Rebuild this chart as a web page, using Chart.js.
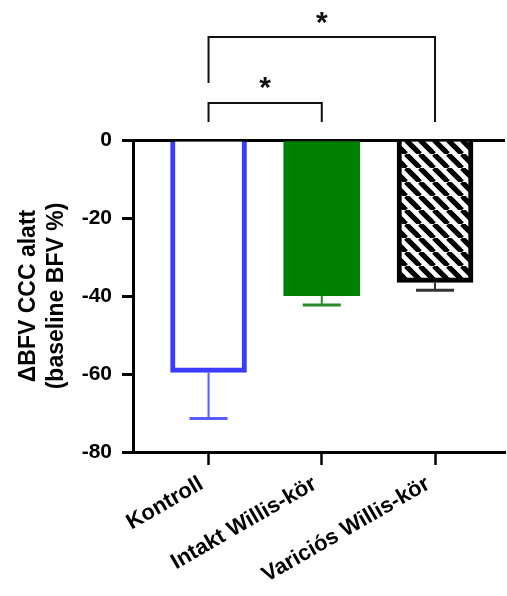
<!DOCTYPE html>
<html><head><meta charset="utf-8">
<script src="https://cdn.jsdelivr.net/npm/chart.js@4"></script>
<style>html,body{margin:0;padding:0;background:#fff}#wrap{width:507px;height:596px;position:relative}</style>
</head><body><div id="wrap"><canvas id="c"></canvas></div>
<script>
// ---- data ----
const categories = ['Kontroll', 'Intakt Willis-kör', 'Variciós Willis-kör'];
const means = [-59.6, -39.9, -36.5];
const errors = [11.8, 2.4, 2.0];
const yTicks = [0, -20, -40, -60, -80];
const comparisons = [
  { from: 0, to: 1, label: '*' },
  { from: 0, to: 2, label: '*' }
];

const FONT = "'Liberation Sans', Arial, Helvetica, sans-serif";

// hatch pattern
function makeHatch() {
  const n = 14;
  const p = document.createElement('canvas');
  p.width = n; p.height = n;
  const g = p.getContext('2d');
  g.fillStyle = '#fff'; g.fillRect(0, 0, n, n);
  g.strokeStyle = '#000'; g.lineWidth = 5.2;
  for (const k of [-n, 0, n]) {
    g.beginPath(); g.moveTo(k, 0); g.lineTo(k + n, n); g.stroke();
  }
  return document.getElementById('c').getContext('2d').createPattern(p, 'repeat');
}
const hatch = makeHatch();

const errorBars = {
  id: 'errorBars',
  afterDatasetsDraw(chart, args, opts) {
    const ctx = chart.ctx, ys = chart.scales.y;
    const meta = chart.getDatasetMeta(0);
    ctx.save();
    meta.data.forEach((el, i) => {
      const x = el.x;
      const y0 = ys.getPixelForValue(means[i]);
      const y1 = ys.getPixelForValue(means[i] - errors[i]);
      ctx.strokeStyle = opts.colors[i];
      ctx.lineWidth = 2;
      ctx.beginPath(); ctx.moveTo(x, y0); ctx.lineTo(x, y1); ctx.stroke();
      ctx.lineWidth = 3;
      ctx.beginPath(); ctx.moveTo(x - opts.cap, y1); ctx.lineTo(x + opts.cap, y1); ctx.stroke();
    });
    ctx.restore();
  }
};

const brackets = {
  id: 'brackets',
  afterDraw(chart, args, opts) {
    const ctx = chart.ctx, xs = chart.scales.x, ys = chart.scales.y;
    const top = ys.getPixelForValue(0);
    ctx.save();
    ctx.strokeStyle = '#111'; ctx.fillStyle = '#111'; ctx.lineWidth = 2;
    comparisons.forEach((c, i) => {
      const g = opts.levels[i];
      const xa = xs.getPixelForValue(c.from + 1), xb = xs.getPixelForValue(c.to + 1);
      const yl = top - g.line, ya = top - g.legA, yb = top - g.legB;
      ctx.beginPath();
      ctx.moveTo(xa, ya); ctx.lineTo(xa, yl); ctx.lineTo(xb, yl); ctx.lineTo(xb, yb);
      ctx.stroke();
      ctx.font = 'bold 30px ' + FONT;
      ctx.textAlign = 'center'; ctx.textBaseline = 'alphabetic';
      const m = ctx.measureText(c.label);
      const cy = top - g.star;
      const base = cy + (m.actualBoundingBoxAscent - m.actualBoundingBoxDescent) / 2;
      ctx.fillText(c.label, (xa + xb) / 2, base);
    });
    ctx.restore();
  }
};

new Chart(document.getElementById('c'), {
  type: 'bar',
  data: {
    datasets: [{
      data: means.map((v, i) => ({ x: i + 1, y: v })),
      backgroundColor: ['#ffffff', '#008000', hatch],
      borderColor: ['#3c3cff', '#008000', '#000000'],
      borderWidth: [5, 0, 5],
      borderSkipped: 'start',
      barThickness: 76
    }]
  },
  options: {
    responsive: true,
    maintainAspectRatio: false,
    animation: false,
    layout: { padding: { top: 140, right: 2, left: 0, bottom: 0 } },
    plugins: {
      legend: { display: false },
      tooltip: { enabled: false },
      errorBars: { colors: ['#5a5aff', '#2a8a2a', '#333333'], cap: 19 },
      brackets: {
        levels: [
          { line: 37, legA: 18, legB: 18, star: 57 },
          { line: 103, legA: 57, legB: 18, star: 122 }
        ]
      }
    },
    scales: {
      x: {
        type: 'linear',
        offset: false,
        min: 0.333, max: 3.618,
        afterBuildTicks(s) { s.ticks = categories.map((_, i) => ({ value: i + 1 })); },
        afterFit(s) { s.height = 144; },
        border: { display: true, color: '#000', width: 3 },
        grid: { display: true, offset: false, drawOnChartArea: false, drawTicks: true, tickLength: 13, tickColor: '#000', tickWidth: 2.5 },
        ticks: {
          autoSkip: false,
          minRotation: 30, maxRotation: 30,
          padding: 6,
          labelOffset: -7,
          color: '#000',
          font: { family: FONT, size: 22, weight: 'bold' },
          callback: (v) => categories[Math.round(v) - 1]
        }
      },
      y: {
        min: -80, max: 0,
        afterBuildTicks(s) { s.ticks = yTicks.map(v => ({ value: v })); },
        afterFit(s) { s.width = 133; },
        border: { display: true, color: '#000', width: 3 },
        grid: {
          drawOnChartArea: true,
          color: (c) => (c.tick && c.tick.value === 0 ? '#000' : 'rgba(0,0,0,0)'),
          lineWidth: 3,
          tickLength: 11, tickColor: '#000', tickWidth: 3
        },
        ticks: {
          padding: 10,
          color: '#000',
          font: { family: FONT, size: 21, weight: 'bold' }
        },
        title: {
          display: true,
          text: ['ΔBFV CCC alatt', '(baseline BFV %)'],
          color: '#000',
          font: { family: FONT, size: 23, weight: 'bold' },
          padding: { top: 15, bottom: 0 }
        }
      }
    }
  },
  plugins: [errorBars, brackets]
});
</script>
</body></html>
